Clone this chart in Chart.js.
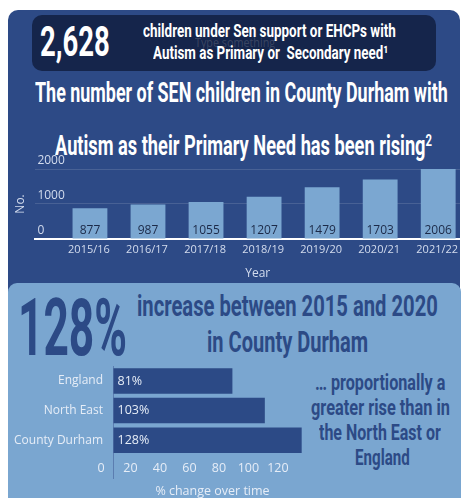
<!DOCTYPE html>
<html>
<head>
<meta charset="utf-8">
<script src="https://cdn.jsdelivr.net/npm/chart.js@4/dist/chart.umd.min.js"></script>
<style>
  body { margin: 0; width: 464px; height: 498px; overflow: hidden; background: #ffffff; position: relative; font-family: "Open Sans", sans-serif; }
  .panel { position: absolute; left: 8px; top: 10px; width: 452px; height: 500px; background: #2d4a86; border-radius: 10px; }
  .darkbox { position: absolute; left: 32px; top: 15px; width: 404px; height: 56px; background: #15254b; border-radius: 10px; }
  .lower { position: absolute; left: 8px; top: 283px; width: 453px; height: 230px; background: #7aa6d0; border-radius: 9px; }
  .t { position: absolute; white-space: pre; line-height: 1; transform-origin: 0 0;
       font-family: "Liberation Sans Narrow", "Roboto", sans-serif; font-weight: bold; }
  .white { color: #ffffff; }
  .navy { color: #2c4a86; }
  sup { font-size: 0.62em; vertical-align: 0.5em; line-height: 0; }
  #trendBox { position: absolute; left: 0; top: 150px; width: 464px; height: 131px; overflow: hidden; }
  #changeBox { position: absolute; left: 0; top: 349px; width: 330px; height: 154px; }
</style>
</head>
<body>
<div class="panel"></div>
<div class="darkbox"></div>

<div class="t white" data-w="70" style="left:40px; top:21px; font-size:42px;">2,628</div>
<div class="t" data-w="80" style="left:195px; top:37px; font-size:12px; font-weight:normal; font-family:'Open Sans',sans-serif; color:rgba(150,150,160,0.3);">Type something</div>
<div class="t white" data-w="253" style="left:143px; top:21px; font-size:19px;">children under Sen support or EHCPs with</div>
<div class="t white" data-w="235" style="left:153px; top:43px; font-size:19px;">Autism as Primary or  Secondary need¹</div>

<div class="t white" data-w="413" style="left:35px; top:79px; font-size:27.5px;">The number of SEN children in County Durham with</div>
<div class="t white" data-w="377" style="left:55px; top:132px; font-size:28px;">Autism as their Primary Need has been rising<sup>2</sup></div>

<div id="trendBox"><canvas id="trend" width="480" height="131"></canvas></div>

<div class="lower"></div>
<div class="t navy" data-w="109" style="left:18px; top:288px; font-size:80px;">128%</div>
<div class="t navy" data-w="301" style="left:137px; top:291px; font-size:30px;">increase between 2015 and 2020</div>
<div class="t navy" data-w="161" style="left:207px; top:327px; font-size:30px;">in County Durham</div>

<div class="t navy" data-w="130" style="left:315px; top:372px; font-size:22px;">… proportionally a</div>
<div class="t navy" data-w="139" style="left:311px; top:397px; font-size:22px;">greater rise than in</div>
<div class="t navy" data-w="122" style="left:319px; top:422px; font-size:22px;">the North East or</div>
<div class="t navy" data-w="55" style="left:355px; top:447px; font-size:22px;">England</div>

<div id="changeBox"><canvas id="change" width="330" height="154"></canvas></div>

<script>
// squeeze the headline texts to the widths they have in the picture
document.querySelectorAll('[data-w]').forEach(el => {
    let w = Number(el.dataset.w)
    el.style.transform = 'scaleX(' + (w / el.offsetWidth) + ')'
})

// data
const years = ['2015/16', '2016/17', '2017/18', '2018/19', '2019/20', '2020/21', '2021/22']
const pupils = [877, 987, 1055, 1207, 1479, 1703, 2006]
const countTicks = [0, 1000, 2000]

const areas = ['England', 'North East', 'County Durham']
const change = [81, 103, 128]
const pctTicks = [0, 20, 40, 60, 80, 100, 120]

// writes the value of each bar on the bar itself
const barLabels = {
    id: 'barLabels',
    afterDatasetsDraw(chart, args, opts) {
        let ctx = chart.ctx
        let meta = chart.getDatasetMeta(0)
        let horizontal = chart.options.indexAxis === 'y'
        ctx.save()
        ctx.font = opts.font
        ctx.fillStyle = opts.color
        ctx.textBaseline = 'middle'
        meta.data.forEach((bar, i) => {
            let parsed = meta.controller.getParsed(i)
            let v = horizontal ? parsed.x : parsed.y
            if (horizontal) {
                ctx.textAlign = 'left'
                ctx.fillText(v + '%', bar.base + 4, bar.y)
            } else {
                ctx.textAlign = 'center'
                ctx.fillText(String(v), bar.x, bar.base - 8)
            }
        })
        ctx.restore()
    }
}

const light = '#d3dcee'

new Chart(document.getElementById('trend'), {
    type: 'bar',
    data: {
        datasets: [{
            data: pupils.map((v, i) => ({ x: i, y: v })),
            backgroundColor: '#7ba7d1',
            barPercentage: 0.75,
            categoryPercentage: 0.8
        }]
    },
    options: {
        responsive: false,
        animation: false,
        layout: { padding: { left: 9, top: 19, right: 0, bottom: 0 } },
        plugins: {
            legend: { display: false },
            tooltip: { enabled: false },
            barLabels: { font: '12px "Open Sans"', color: '#1c2a48' }
        },
        scales: {
            x: {
                type: 'linear',
                min: -0.94,
                max: 6.72,
                offset: false,
                grid: { display: false, offset: false, drawTicks: false },
                border: { display: true, color: '#ffffff', width: 2 },
                // one tick per school year
                afterBuildTicks: axis => { axis.ticks = years.map((y, i) => ({ value: i })) },
                ticks: {
                    autoSkip: false, maxRotation: 0, padding: 4, labelOffset: -1,
                    color: light, font: { family: 'Open Sans', size: 11 },
                    callback: v => years[v]
                },
                title: { display: true, text: 'Year', color: light, font: { family: 'Open Sans', size: 12 }, padding: { top: 6.5, bottom: 0 } }
            },
            y: {
                min: 0,
                max: 2000,
                grid: { color: 'rgba(255,255,255,0.13)', drawTicks: false },
                border: { display: false },
                afterBuildTicks: axis => { axis.ticks = countTicks.map(v => ({ value: v })) },
                ticks: {
                    mirror: true, labelOffset: -8, padding: 2,
                    color: light, font: { family: 'Open Sans', size: 12 },
                    callback: v => String(v)
                },
                title: { display: true, text: 'No.', color: light, font: { family: 'Open Sans', size: 12 } }
            }
        }
    },
    plugins: [barLabels]
})

const lineCol = '#5b7db0'
const paleText = '#e6edf7'

new Chart(document.getElementById('change'), {
    type: 'bar',
    data: {
        labels: areas,
        datasets: [{
            data: change,
            backgroundColor: '#2c4a86',
            barPercentage: 0.86,
            categoryPercentage: 1
        }]
    },
    options: {
        indexAxis: 'y',
        responsive: false,
        animation: false,
        layout: { padding: { left: 1, top: 0, right: 18, bottom: 0 } },
        plugins: {
            legend: { display: false },
            tooltip: { enabled: false },
            barLabels: { font: '12.5px "Open Sans"', color: paleText }
        },
        scales: {
            x: {
                min: 0,
                max: 135,
                grid: {
                    display: true, drawOnChartArea: false, drawTicks: true, tickLength: 24,
                    tickColor: c => (c.tick && c.tick.value === 0) ? lineCol : 'transparent'
                },
                border: { display: false },
                afterBuildTicks: axis => { axis.ticks = pctTicks.map(v => ({ value: v })) },
                ticks: {
                    autoSkip: false, maxRotation: 0, padding: -18, labelOffset: -12,
                    color: paleText, font: { family: 'Open Sans', size: 12.5 },
                    callback: v => String(v)
                },
                title: { display: true, text: '% change over time', color: paleText, font: { family: 'Open Sans', size: 12.5 }, padding: { top: 26, bottom: 4 } }
            },
            y: {
                grid: { display: false, drawTicks: false },
                border: { display: true, color: lineCol, width: 1 },
                afterFit: axis => { axis.width = 112 },
                ticks: { padding: 10, color: paleText, font: { family: 'Open Sans', size: 12 } }
            }
        }
    },
    plugins: [barLabels]
})
</script>
</body>
</html>
